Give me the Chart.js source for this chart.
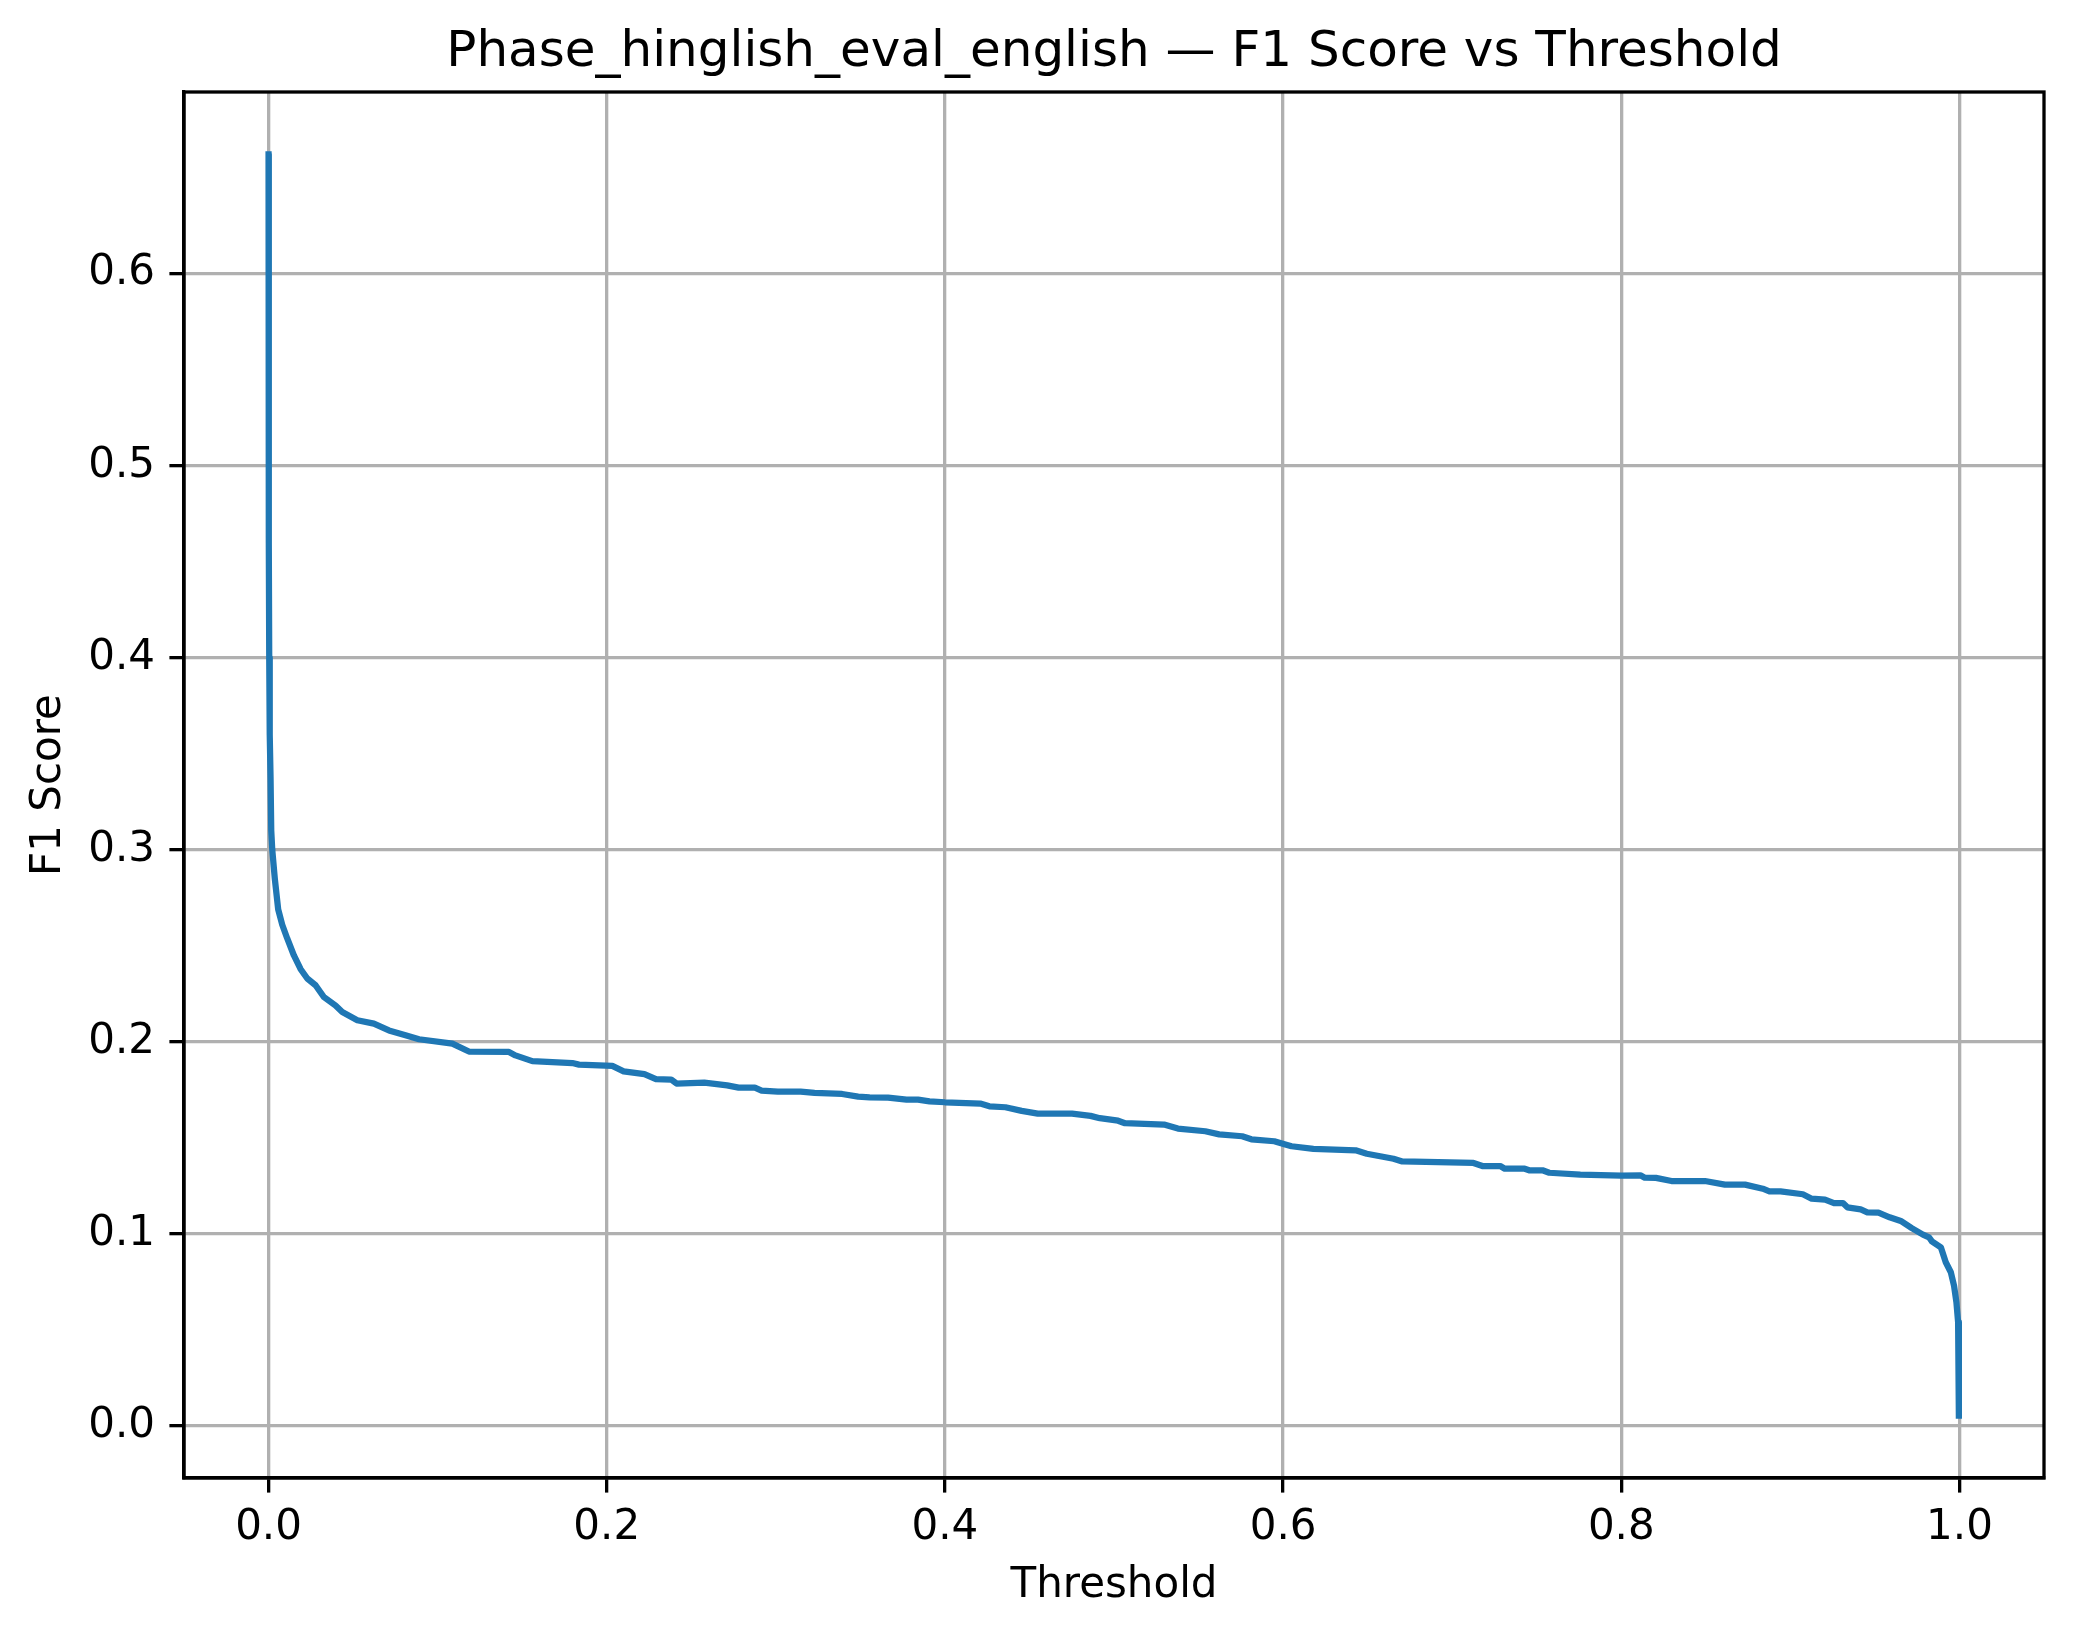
<!DOCTYPE html>
<html>
<head>
<meta charset="utf-8">
<script src="https://cdn.jsdelivr.net/npm/chart.js@4.4.1/dist/chart.umd.min.js"></script>
<style>
  html, body { margin: 0; padding: 0; background: #fff; }
  #chart { display: block; }
</style>
</head>
<body>
<canvas id="chart" width="2074" height="1638"></canvas>
<script>
// threshold / F1 pairs
var thresholds = [
  0, 0.0001, 0.0002, 0.0004, 0.0007, 0.0012, 0.0016, 0.0022, 0.0037, 0.0057,
  0.0081, 0.011, 0.015, 0.0189, 0.0229, 0.0278, 0.0327, 0.0396, 0.0436, 0.0525,
  0.0623, 0.0712, 0.081, 0.089, 0.1087, 0.1185, 0.1422, 0.146, 0.156, 0.1797,
  0.1836, 0.2033, 0.21, 0.2223, 0.2291, 0.2381, 0.2413, 0.2577, 0.2712, 0.278,
  0.2876, 0.2916, 0.3012, 0.3147, 0.3229, 0.3392, 0.3487, 0.3555, 0.3664, 0.3773,
  0.3841, 0.3909, 0.4, 0.4209, 0.4263, 0.4358, 0.4454, 0.4549, 0.4752, 0.4861,
  0.4916, 0.5024, 0.5065, 0.5296, 0.5378, 0.554, 0.5622, 0.5758, 0.5812, 0.5948,
  0.6003, 0.605, 0.6179, 0.6429, 0.6495, 0.6653, 0.6705, 0.7126, 0.7179, 0.7284,
  0.7311, 0.7429, 0.7455, 0.7534, 0.7574, 0.7758, 0.8, 0.8113, 0.8139, 0.8205,
  0.8297, 0.8495, 0.8613, 0.8732, 0.8837, 0.8876, 0.8942, 0.9074, 0.9126, 0.9205,
  0.9258, 0.9311, 0.9337, 0.9416, 0.9455, 0.9521, 0.9587, 0.9653, 0.9718, 0.9784,
  0.982, 0.9837, 0.989, 0.9919, 0.9949, 0.9968, 0.9982, 0.9992, 0.9996, 0.9997
];
var f1Scores = [
  0.662, 0.56, 0.46, 0.40, 0.36, 0.337, 0.31, 0.300, 0.285, 0.269,
  0.261, 0.254, 0.245, 0.238, 0.233, 0.2295, 0.2234, 0.219, 0.2156, 0.2113,
  0.2095, 0.206, 0.2035, 0.2014, 0.1991, 0.195, 0.1948, 0.193, 0.190, 0.189,
  0.1882, 0.1875, 0.1847, 0.1832, 0.1806, 0.1804, 0.1783, 0.1788, 0.1774, 0.1762,
  0.1762, 0.1747, 0.1741, 0.1741, 0.1735, 0.1729, 0.1715, 0.1712, 0.171, 0.170,
  0.170, 0.1691, 0.1686, 0.1679, 0.1665, 0.166, 0.1641, 0.1627, 0.1627, 0.1615,
  0.1603, 0.159, 0.1577, 0.157, 0.1549, 0.1535, 0.1519, 0.1509, 0.1493, 0.1483,
  0.1469, 0.1457, 0.1443, 0.1436, 0.1418, 0.1392, 0.1378, 0.137, 0.1354, 0.1354,
  0.134, 0.134, 0.1332, 0.1332, 0.1319, 0.1309, 0.1304, 0.1306, 0.1293, 0.1292,
  0.1276, 0.1276, 0.1257, 0.1257, 0.1236, 0.1222, 0.1222, 0.1207, 0.1184, 0.1179,
  0.1161, 0.1161, 0.1139, 0.1128, 0.1113, 0.1111, 0.1087, 0.1068, 0.1031, 0.0997,
  0.0983, 0.0962, 0.0931, 0.0853, 0.0801, 0.0731, 0.0645, 0.0541, 0.0333, 0.0055
];
var xTicks = [0, 0.2, 0.4, 0.6, 0.8, 1.0];
var yTicks = [0, 0.1, 0.2, 0.3, 0.4, 0.5, 0.6];

var FONT = "'DejaVu Sans', 'Liberation Sans', sans-serif";

var points = thresholds.map(function(t, i) { return { x: t, y: f1Scores[i] }; });

// top and right spines, like a matplotlib axes box
var frame = {
  id: 'frame',
  afterDraw: function(chart) {
    var a = chart.chartArea, c = chart.ctx;
    c.save();
    c.strokeStyle = '#000';
    c.lineWidth = 3.3;
    c.strokeRect(a.left, a.top, a.right - a.left, a.bottom - a.top);
    c.restore();
  }
};

var ctx = document.getElementById('chart').getContext('2d');
new Chart(ctx, {
  type: 'scatter',
  data: {
    datasets: [{
      data: points,
      showLine: true,
      borderColor: '#1f77b4',
      borderWidth: 6.25,
      borderJoinStyle: 'round',
      borderCapStyle: 'square',
      pointRadius: 0,
      pointHoverRadius: 0,
      tension: 0
    }]
  },
  options: {
    responsive: false,
    devicePixelRatio: 1,
    animation: false,
    layout: { padding: { left: 0, right: 30, top: 0, bottom: 0 } },
    plugins: {
      legend: { display: false },
      tooltip: { enabled: false },
      title: {
        display: true,
        fullSize: false,
        text: 'Phase_hinglish_eval_english \u2014 F1 Score vs Threshold',
        color: '#000',
        font: { family: FONT, size: 50, weight: 'normal', lineHeight: 1.2 },
        padding: { top: 23, bottom: 9 }
      }
    },
    scales: {
      x: {
        type: 'linear',
        min: -0.05,
        max: 1.05,
        afterBuildTicks: function(s) { s.ticks = xTicks.map(function(v) { return { value: v }; }); },
        afterFit: function(s) { s.height = 160; },
        ticks: {
          color: '#000',
          font: { family: FONT, size: 42 },
          padding: 10,
          maxRotation: 0,
          callback: function(v) { return v.toFixed(1); }
        },
        grid: {
          color: '#b0b0b0',
          lineWidth: 3.3,
          tickColor: '#000',
          tickWidth: 3.3,
          tickLength: 14.6
        },
        border: { color: '#000', width: 3.3 },
        title: {
          display: true,
          text: 'Threshold',
          color: '#000',
          font: { family: FONT, size: 42, lineHeight: 1.2 },
          padding: { top: 0, bottom: 27 }
        }
      },
      y: {
        type: 'linear',
        min: -0.027,
        max: 0.6945,
        afterBuildTicks: function(s) { s.ticks = yTicks.map(function(v) { return { value: v }; }); },
        afterFit: function(s) { s.width = 184; },
        ticks: {
          color: '#000',
          font: { family: FONT, size: 42 },
          padding: 14.4,
          callback: function(v) { return v.toFixed(1); }
        },
        grid: {
          color: '#b0b0b0',
          lineWidth: 3.3,
          tickColor: '#000',
          tickWidth: 3.3,
          tickLength: 14.6
        },
        border: { color: '#000', width: 3.3 },
        title: {
          display: true,
          text: 'F1 Score',
          color: '#000',
          font: { family: FONT, size: 42, lineHeight: 1.2 },
          padding: { top: 24, bottom: 0 }
        }
      }
    }
  },
  plugins: [frame]
});
</script>
</body>
</html>
